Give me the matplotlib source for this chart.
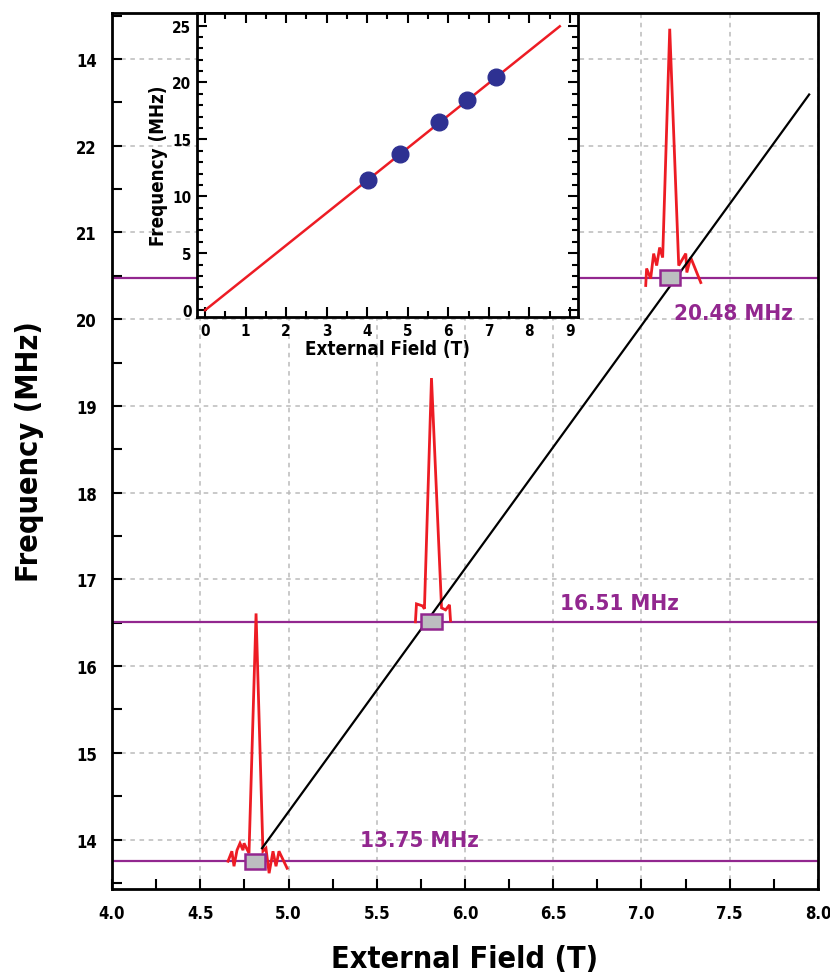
import matplotlib
matplotlib.use("Agg")
import matplotlib.pyplot as plt
from matplotlib.patches import Rectangle
from matplotlib.ticker import MultipleLocator, FixedLocator

# --- Main panel data ---
res_field = [4.81, 5.81, 7.16]          # T
res_freq = [13.75, 16.51, 20.48]        # MHz
res_labels = ["13.75 MHz", "16.51 MHz", "20.48 MHz"]
label_field = [5.74, 6.875, 7.52]
label_freq = [14.0, 16.73, 20.07]

# calibration line
line_field = [4.85, 7.95]
line_freq = [13.90, 22.59]

# spectrum traces, as offsets from each resonance (T, MHz)
trace_dx = [
    [-0.153, -0.131, -0.119, -0.102, -0.085, -0.068, -0.062, -0.034, 0.006,
     0.045, 0.062, 0.080, 0.102, 0.119, 0.136, 0.182],
    [-0.091, -0.085, -0.051, -0.040, 0.0, 0.057, 0.080, 0.102, 0.108],
    [-0.136, -0.131, -0.108, -0.091, -0.074, -0.057, -0.040, 0.0,
     0.051, 0.091, 0.097, 0.119, 0.176],
]
trace_dy = [
    [0.0, 0.115, -0.058, 0.127, 0.207, 0.127, 0.207, 0.092, 2.857,
     0.115, 0.150, -0.138, 0.115, -0.058, 0.115, -0.081],
    [0.0, 0.207, 0.184, 0.150, 2.811, 0.161, 0.138, 0.196, 0.012],
    [-0.092, 0.104, -0.012, 0.276, 0.138, 0.346, 0.230, 2.868,
     0.138, 0.276, 0.058, 0.230, -0.058],
]

ytick_vals = [14, 15, 16, 17, 18, 19, 20, 21, 22, 23]
ytick_labels = ["14", "15", "16", "17", "18", "19", "20", "21", "22", "14"]
xtick_vals = [4.0, 4.5, 5.0, 5.5, 6.0, 6.5, 7.0, 7.5, 8.0]

# --- Inset data ---
inset_field = [4.03, 4.80, 5.78, 6.46, 7.18]
inset_freq = [11.44, 13.75, 16.51, 18.50, 20.48]
fit_field = [0.0, 8.75]
fit_freq = [0.0, 24.93]

PURPLE = "#92278F"
RED = "#ED1C24"
NAVY = "#2E3192"
GRID = "#BBBBBB"

plt.rcParams["font.family"] = ["DejaVu Sans"]
plt.rcParams["font.stretch"] = "condensed"
plt.rcParams["font.weight"] = "bold"

fig = plt.figure(figsize=(8.3, 9.78), dpi=100)
ax = fig.add_axes([0.135, 0.09, 0.8505, 0.8957])

ax.set_xlim(4.0, 8.0)
ax.set_ylim(13.43, 23.53)

for f in res_freq:
    ax.axhline(f, color=PURPLE, lw=1.6, zorder=2)

ax.plot(line_field, line_freq, color="black", lw=1.6, zorder=4)

for b, f, dx, dy in zip(res_field, res_freq, trace_dx, trace_dy):
    ax.plot([b + x for x in dx], [f + y for y in dy], color=RED, lw=2.0,
            zorder=3, solid_joinstyle="miter")
    ax.add_patch(Rectangle((b - 0.057, f - 0.085), 0.114, 0.17,
                           facecolor="#BCBEC0", edgecolor=PURPLE, lw=1.8,
                           zorder=5))

for txt, x, y in zip(res_labels, label_field, label_freq):
    ax.text(x, y, txt, color=PURPLE, fontsize=16, fontweight="bold",
            ha="center", va="center", zorder=6)

ax.xaxis.set_major_locator(FixedLocator(xtick_vals))
ax.xaxis.set_minor_locator(MultipleLocator(0.25))
ax.set_xticklabels([f"{v:.1f}" for v in xtick_vals])
ax.yaxis.set_major_locator(FixedLocator(ytick_vals))
ax.yaxis.set_minor_locator(MultipleLocator(0.5))
ax.set_yticklabels(ytick_labels)

ax.tick_params(which="both", direction="in", length=7, width=1.5,
               labelsize=12, pad=11)
ax.grid(True, which="major", color=GRID, ls=(0, (3, 3)), lw=1.1, zorder=0)
for s in ax.spines.values():
    s.set_linewidth(2)

ax.set_xlabel("External Field (T)", fontsize=22, fontweight="bold", labelpad=16)
ax.set_ylabel("Frequency (MHz)", fontsize=22, fontweight="bold", labelpad=23)

# --- Inset ---
ins = fig.add_axes([0.2373, 0.6748, 0.4591, 0.3109])
ins.set_facecolor("white")
ins.set_zorder(10)
ins.plot(fit_field, fit_freq, color=RED, lw=1.8, zorder=2)
ins.plot(inset_field, inset_freq, "o", color=NAVY, ms=12, zorder=3)
ins.set_xlim(-0.2, 9.2)
ins.set_ylim(-0.6, 26.1)
ins.xaxis.set_major_locator(MultipleLocator(1))
ins.xaxis.set_minor_locator(MultipleLocator(0.5))
ins.yaxis.set_major_locator(MultipleLocator(5))
ins.yaxis.set_minor_locator(MultipleLocator(1))
ins.tick_params(which="both", direction="in", top=True, right=True,
                labelsize=11, width=1.5, pad=4)
ins.tick_params(which="major", length=7)
ins.tick_params(which="minor", length=4)
for s in ins.spines.values():
    s.set_linewidth(2)
ins.set_xlabel("External Field (T)", fontsize=13.5, fontweight="bold", labelpad=1)
ins.set_ylabel("Frequency (MHz)", fontsize=13.5, fontweight="bold", labelpad=3)

fig.savefig("out.png", dpi=100)
